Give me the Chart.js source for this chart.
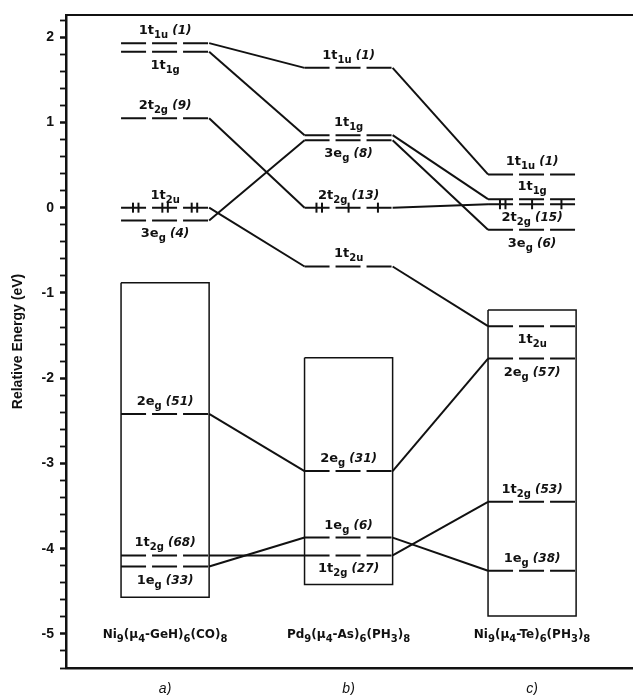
<!DOCTYPE html>
<html>
<head>
<meta charset="utf-8">
<script src="https://cdn.jsdelivr.net/npm/chart.js@4.4.1/dist/chart.umd.min.js"></script>
<style>
  body { margin: 0; background: #fff; }
</style>
</head>
<body>
<canvas id="energyChart" width="633" height="695"></canvas>
<script>
// columns (one cluster per column) and their bottom captions
const columnLetters = ['a)', 'b)', 'c)']
const compounds = ['Ni_9(μ_4-GeH)_6(CO)_8', 'Pd_9(μ_4-As)_6(PH_3)_8', 'Ni_9(μ_4-Te)_6(PH_3)_8']

// orbitals, same order in every column (lines join equal indices)
const orbitals = ['1t_{1u}', '1t_{1g}', '2t_{2g}', '1t_{2u}', '3e_g', '2e_g', '1t_{2g}', '1e_g']

// relative energies (eV)
const energyA = [1.93, 1.83, 1.05, 0.00, -0.15, -2.42, -4.08, -4.21]
const energyB = [1.64, 0.85, 0.00, -0.69, 0.79, -3.09, -4.08, -3.87]
const energyC = [0.39, 0.10, 0.04, -1.39, -0.26, -1.77, -3.45, -4.26]

// percentages shown in brackets
const notesA = ['(1)', '', '(9)', '', '(4)', '(51)', '(68)', '(33)']
const notesB = ['(1)', '', '(13)', '', '(8)', '(31)', '(27)', '(6)']
const notesC = ['(1)', '', '(15)', '', '(6)', '(57)', '(53)', '(38)']

// where the label sits relative to its level
const sidesA = ['above', 'below', 'above', 'above', 'below', 'above', 'above', 'below']
const sidesB = ['above', 'above', 'above', 'above', 'below', 'above', 'below', 'above']
const sidesC = ['above', 'above', 'below', 'below', 'below', 'below', 'above', 'above']

// d band boxes
const boxTop = [-0.88, -1.76, -1.20]
const boxBottom = [-4.57, -4.42, -4.79]

// electrons on the HOMO, per third of the level
const electronColumn = [0, 1, 2]
const electronOrbital = [3, 2, 2]
const electronCounts = [[2, 2, 2], [2, 1, 1], [2, 1, 1]]

// y axis
const yMin = -5.4
const yMax = 2.26
const yTickLabels = ['-5', '-4', '-3', '-2', '-1', '0', '1', '2']

const energies = [energyA, energyB, energyC]
const notes = [notesA, notesB, notesC]
const sides = [sidesA, sidesB, sidesC]

const levelHalf = 0.24
const levelDash = [25, 6]
const black = '#111'

const fontFamily = '"Liberation Sans", Arial, sans-serif'
const labelFamily = '"DejaVu Sans", "Liberation Sans", sans-serif'

function parseRich(text) {
    const parts = []
    let buf = ''
    let i = 0
    while (i < text.length) {
        if (text[i] === '_') {
            if (buf) parts.push({ t: buf, sub: false })
            buf = ''
            if (text[i + 1] === '{') {
                const j = text.indexOf('}', i)
                parts.push({ t: text.slice(i + 2, j), sub: true })
                i = j + 1
            } else {
                parts.push({ t: text[i + 1], sub: true })
                i += 2
            }
        } else {
            buf += text[i]
            i++
        }
    }
    if (buf) parts.push({ t: buf, sub: false })
    return parts
}

function drawRich(ctx, text, note, cx, baseline, fonts) {
    const parts = parseRich(text)
    const pieces = parts.map(p => ({ t: p.t, font: p.sub ? fonts.sub : fonts.main, dy: p.sub ? fonts.drop : 0 }))
    if (note) pieces.push({ t: ' ' + note, font: fonts.note, dy: 0 })
    let total = 0
    pieces.forEach(p => {
        ctx.font = p.font
        p.w = ctx.measureText(p.t).width
        total += p.w
    })
    let x = cx - total / 2
    ctx.textAlign = 'left'
    ctx.textBaseline = 'alphabetic'
    pieces.forEach(p => {
        ctx.font = p.font
        ctx.fillText(p.t, x, baseline + p.dy)
        x += p.w
    })
}

const orbitalFonts = {
    main: 'bold 13px ' + labelFamily,
    sub: 'bold 10px ' + labelFamily,
    note: 'italic bold 12px ' + labelFamily,
    drop: 4,
}
const compoundFonts = {
    main: 'bold 12px ' + labelFamily,
    sub: 'bold 10px ' + labelFamily,
    note: 'bold 12px ' + labelFamily,
    drop: 4,
}

const labelPlugin = {
    id: 'orbitalLabels',
    afterDatasetsDraw(chart) {
        const { ctx, chartArea } = chart
        const x = chart.scales.x
        const y = chart.scales.y
        ctx.save()
        ctx.fillStyle = black
        energies.forEach((col, c) => {
            col.forEach((e, i) => {
                const cx = x.getPixelForValue(c + 1)
                const py = y.getPixelForValue(e)
                const base = sides[c][i] === 'above' ? py - 9 : py + 17
                drawRich(ctx, orbitals[i], notes[c][i], cx, base, orbitalFonts)
            })
        })
        compounds.forEach((t, c) => {
            drawRich(ctx, t, '', x.getPixelForValue(c + 1), y.getPixelForValue(-5) + 4, compoundFonts)
        })
        ctx.font = 'italic 14px ' + fontFamily
        ctx.textAlign = 'center'
        columnLetters.forEach((t, c) => {
            ctx.fillText(t, x.getPixelForValue(c + 1), chartArea.bottom + 25)
        })
        ctx.restore()
    }
}

const levelDatasets = orbitals.map((name, i) => ({
    label: name,
    data: energies.flatMap((col, c) => [
        { x: c + 1 - levelHalf, y: col[i] },
        { x: c + 1 + levelHalf, y: col[i] },
    ]),
    borderColor: black,
    borderWidth: 2,
    pointRadius: 0,
    segment: {
        borderDash: ctx => ctx.p0DataIndex % 2 === 0 ? levelDash : [],
    },
}))

const boxDatasets = boxTop.map((top, c) => ({
    label: 'box ' + columnLetters[c],
    data: [
        { x: c + 1 - levelHalf, y: top },
        { x: c + 1 + levelHalf, y: top },
        { x: c + 1 + levelHalf, y: boxBottom[c] },
        { x: c + 1 - levelHalf, y: boxBottom[c] },
        { x: c + 1 - levelHalf, y: top },
    ],
    borderColor: black,
    borderWidth: 1.5,
    pointRadius: 0,
}))

const electronPoints = []
electronColumn.forEach((c, k) => {
    const e = energies[c][electronOrbital[k]]
    electronCounts[k].forEach((n, seg) => {
        const centre = c + 1 - levelHalf + (seg + 0.5) * (2 * levelHalf / 3)
        for (let j = 0; j < n; j++) {
            electronPoints.push({ x: centre + (j - (n - 1) / 2) * 0.03, y: e })
        }
    })
})

const electronDataset = {
    label: 'electrons',
    data: electronPoints,
    showLine: false,
    pointStyle: 'line',
    pointRotation: 90,
    pointRadius: 5,
    pointBorderWidth: 2,
    pointBorderColor: black,
    pointHoverRadius: 5,
}

const minorTicks = []
for (let k = Math.ceil(yMin * 5); k <= Math.floor(yMax * 5); k++) minorTicks.push(k / 5)

const hiddenX = {
    type: 'linear',
    min: 0.46,
    max: 3.55,
    ticks: { display: false },
    grid: { display: false, drawTicks: false },
    border: { display: true, color: black, width: 2.5 },
    afterFit: scale => { scale.height = 0 },
}

new Chart(document.getElementById('energyChart'), {
    type: 'line',
    data: {
        datasets: [...boxDatasets, ...levelDatasets, electronDataset],
    },
    options: {
        responsive: false,
        animation: false,
        events: [],
        layout: { autoPadding: false, padding: { top: 15, bottom: 27, left: 0, right: 0 } },
        plugins: {
            legend: { display: false },
            tooltip: { enabled: false },
        },
        scales: {
            x: { ...hiddenX, position: 'bottom' },
            xTop: { ...hiddenX, position: 'top', border: { display: true, color: black, width: 2 } },
            y: {
                type: 'linear',
                min: yMin,
                max: yMax,
                afterBuildTicks: scale => {
                    scale.ticks = minorTicks.map(v => ({ value: v }))
                },
                afterFit: scale => { scale.width = 66 },
                ticks: {
                    autoSkip: false,
                    padding: 6,
                    color: black,
                    font: { family: fontFamily, size: 14, weight: 'bold' },
                    callback: value => {
                        const label = String(Math.round(value * 10) / 10)
                        return yTickLabels.includes(label) ? label : ''
                    },
                },
                grid: {
                    drawOnChartArea: false,
                    tickLength: 6,
                    tickColor: black,
                    tickWidth: ctx => Number.isInteger(Math.round(ctx.tick.value * 10) / 10) ? 2.5 : 1.8,
                },
                border: { display: true, color: black, width: 2.5 },
                title: {
                    display: true,
                    text: 'Relative Energy (eV)',
                    color: black,
                    padding: { top: 10, bottom: 0 },
                    font: { family: fontFamily, size: 14, weight: 'bold' },
                },
            },
        },
    },
    plugins: [labelPlugin],
})
</script>
</body>
</html>
